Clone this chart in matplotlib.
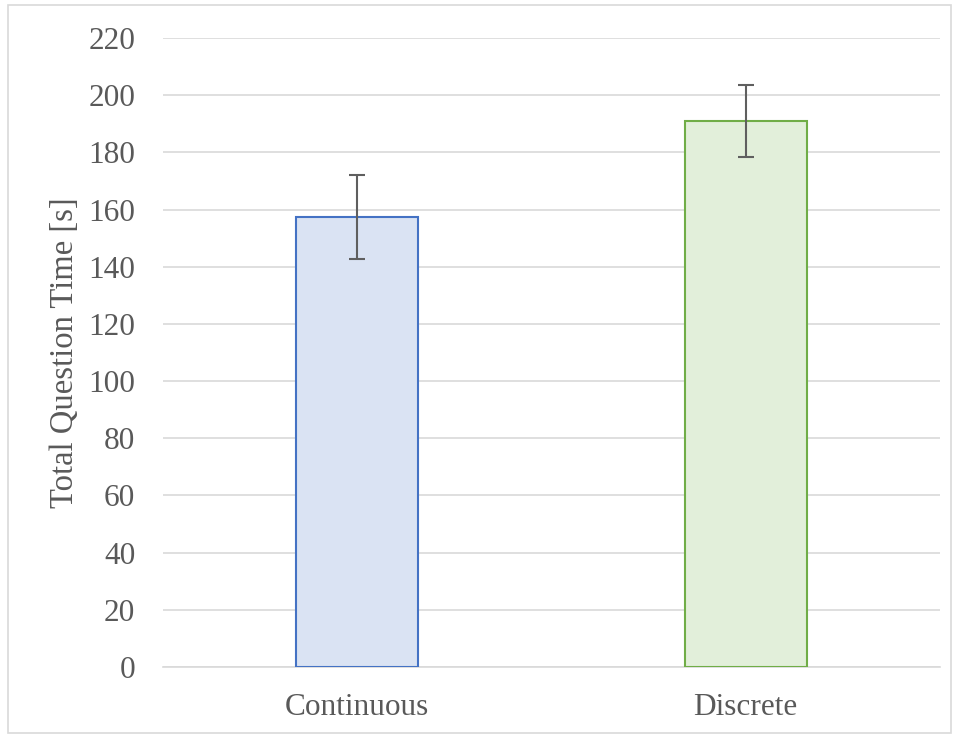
import matplotlib
matplotlib.use('Agg')
import matplotlib.pyplot as plt
from matplotlib.patches import Rectangle

categories = ['Continuous', 'Discrete']
means = [157.4, 191.0]
err_low = [142.7, 178.4]
err_high = [172.1, 203.6]
fills = ['#DAE3F3', '#E2EFDA']
edges = ['#4472C4', '#70AD47']

plt.rcParams['font.family'] = ['Liberation Serif', 'DejaVu Serif']

fig = plt.figure(figsize=(9.59, 7.37), dpi=100)
ax = fig.add_axes([163 / 959, 1 - 667 / 737, 777 / 959, 629 / 737])

x = list(range(len(categories)))
ax.bar(x, means, width=0.314, color=fills, edgecolor=edges, linewidth=1.5, zorder=3)
yerr = [[m - lo for m, lo in zip(means, err_low)],
        [hi - m for m, hi in zip(means, err_high)]]
ax.errorbar(x, means, yerr=yerr, fmt='none', ecolor='#5f5f5f', elinewidth=1.5,
            capsize=6, capthick=1.5, zorder=4)

ax.set_xlim(-0.5, 1.5)
ax.set_ylim(0, 220)
ax.set_yticks(range(0, 221, 20))
ax.set_xticks(x)
ax.set_xticklabels(categories)
ax.grid(True, axis='y', color='#d9d9d9', linewidth=1.2, zorder=0)
for s in ['top', 'right', 'left']:
    ax.spines[s].set_visible(False)
ax.spines['bottom'].set_color('#d9d9d9')
ax.spines['bottom'].set_linewidth(1.2)
ax.tick_params(length=0, labelsize=22.5, labelcolor='#595959')
ax.tick_params(axis='y', pad=20)
ax.tick_params(axis='x', pad=19)
ax.set_ylabel('Total Question Time [s]', fontsize=23.5, color='#595959', labelpad=6)

fig.patches.append(Rectangle((8 / 959, 4 / 737), 943 / 959, 728 / 737,
                             transform=fig.transFigure, fill=False,
                             edgecolor='#d9d9d9', linewidth=1.2))

plt.savefig('out.png', dpi=100)
